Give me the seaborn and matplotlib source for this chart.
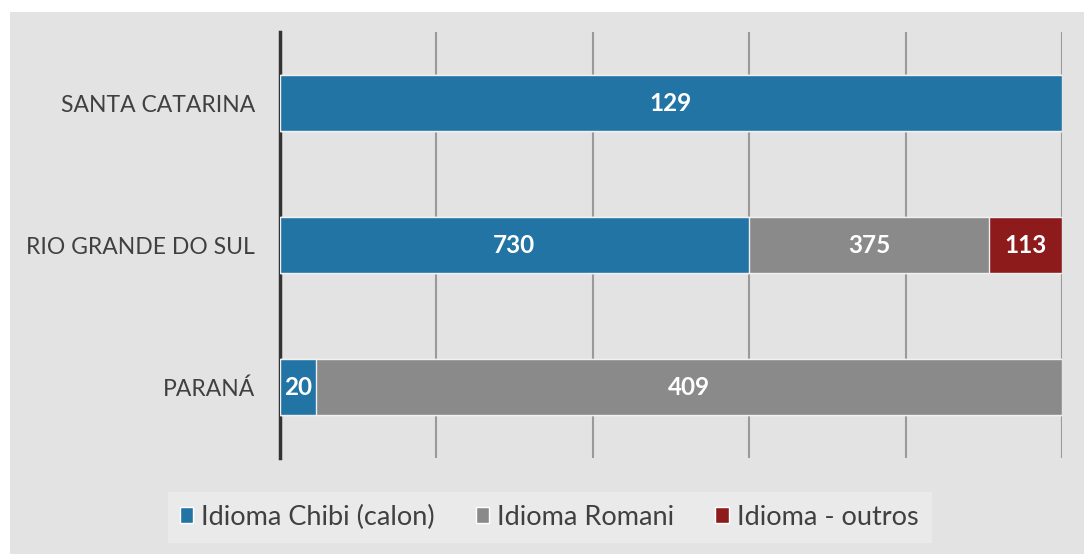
import pandas as pd
import matplotlib.pyplot as plt
import seaborn as sns
from matplotlib.patches import Rectangle

# dados
estados = ['SANTA CATARINA', 'RIO GRANDE DO SUL', 'PARANÁ']
chibi = [129, 730, 20]
romani = [0, 375, 409]
outros = [0, 113, 0]
series = ['Idioma Chibi (calon)', 'Idioma Romani', 'Idioma - outros']
cores = ['#2274a5', '#8a8a8a', '#8e1b1b']

df = pd.DataFrame({'estado': estados, series[0]: chibi, series[1]: romani, series[2]: outros})
total = df[series].sum(axis=1)
pct = df[series].div(total, axis=0) * 100
acum = pct.cumsum(axis=1)

sns.set_style('white')
plt.rcParams['font.family'] = ['Lato', 'DejaVu Sans']

fig = plt.figure(figsize=(10.84, 5.54), dpi=100)
fig.patch.set_facecolor('white')
fig.patches.append(Rectangle((10 / 1084, 0), 1, (554 - 12) / 554, transform=fig.transFigure,
                             facecolor='#e3e3e3', edgecolor='none', zorder=-10))
ax = fig.add_axes([280 / 1084, 1 - 458 / 554, (1062 - 280) / 1084, (458 - 32) / 554])
ax.set_facecolor('none')

# camadas empilhadas: da maior soma acumulada para a menor
for i in range(len(series) - 1, -1, -1):
    col = series[i]
    d = pd.DataFrame({'estado': estados, 'valor': acum[col].values})
    sns.barplot(data=d, x='valor', y='estado', orient='h', color=cores[i], width=0.39,
                edgecolor='#f0f0f0', linewidth=1, saturation=1, ax=ax, zorder=3)

# rótulos
for i in range(len(series)):
    col = series[i]
    for j, est in enumerate(estados):
        v = df[col].iloc[j]
        if v == 0:
            continue
        centro = acum[col].iloc[j] - pct[col].iloc[j] / 2
        ax.text(centro, j, str(v), ha='center', va='center', color='white',
                fontsize=17.5, fontweight='bold', zorder=5)

ax.set_xlim(0, 100)
ax.set_ylim(2.5, -0.5)
ax.set_xticks([0, 20, 40, 60, 80, 100])
ax.xaxis.grid(True, color='#9a9a9a', linewidth=1.5, zorder=0)
ax.set_axisbelow(True)
ax.tick_params(axis='x', labelbottom=False, length=0)
ax.tick_params(axis='y', length=0, pad=18, labelsize=16.5, labelcolor='#404040')
ax.set_xlabel('')
ax.set_ylabel('')
for s in ['top', 'right', 'bottom']:
    ax.spines[s].set_visible(False)
ax.spines['left'].set_color('#333333')
ax.spines['left'].set_linewidth(2.5)

handles = [Rectangle((0, 0), 1, 1, facecolor=c) for c in cores]
leg = fig.legend(handles, series, loc='center', bbox_to_anchor=(549 / 1084, 1 - 517 / 554),
                 ncol=3, frameon=True, fontsize=19.5, handlelength=0.5, handleheight=0.5,
                 handletextpad=0.3, columnspacing=1.5, borderpad=0.45, borderaxespad=0,
                 fancybox=False)
leg.get_frame().set_facecolor('#ececec')
leg.get_frame().set_edgecolor('#ececec')
for t in leg.get_texts():
    t.set_color('#404040')

plt.savefig('out.png', dpi=100, facecolor=fig.get_facecolor())
